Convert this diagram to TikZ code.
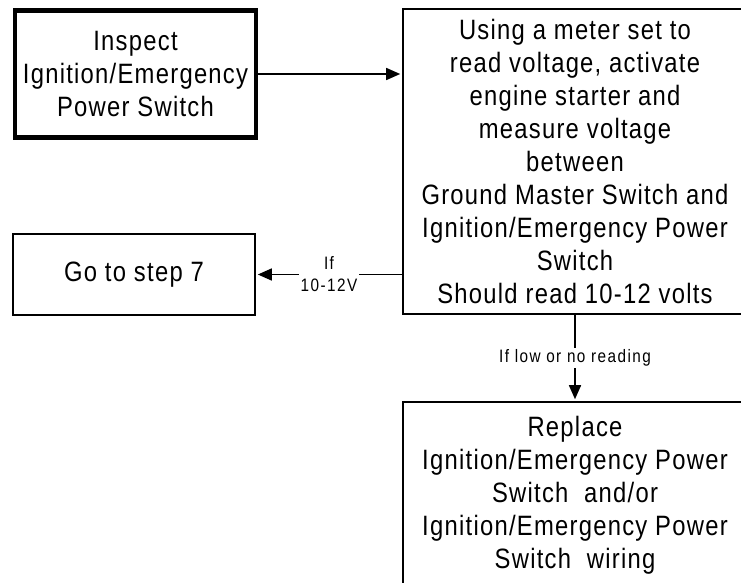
\documentclass[tikz,border=0pt]{standalone}
\usepackage{fontspec}
\setmainfont{Liberation Sans}[FakeStretch=0.85,LetterSpace=4.5]
\newfontfamily\labelfont{Liberation Sans}[FakeStretch=0.85,LetterSpace=8]
\usetikzlibrary{arrows.meta}

\begin{document}
\begin{tikzpicture}[x=1pt,y=-1pt,
  every node/.style={font=\fontsize{28}{33}\selectfont},
  box/.style={draw,line width=1.6pt,align=center,inner sep=0pt},
  thickbox/.style={box,line width=4.5pt},
  arr/.style={line width=1.5pt,-{Triangle[length=14pt,width=12pt]},shorten >=2pt},
  lbl/.style={fill=white,inner sep=2pt,align=center,font=\labelfont\fontsize{18}{22}\selectfont}]
\useasboundingbox (0,0) rectangle (741,582);
\clip (0,0) rectangle (741,582);
\node[thickbox,minimum width=241pt,minimum height=127pt] (inspect) at (135.5,74) {Inspect\\Ignition/Emergency\\Power Switch};
\node[box,minimum width=344pt,minimum height=305pt] (measure) at (575,161.5) {Using a meter set to\\read voltage, activate\\engine starter and\\measure voltage\\between\\Ground Master Switch and\\Ignition/Emergency Power\\Switch\\Should read 10-12 volts};
\node[box,minimum width=242pt,minimum height=81pt] (gostep) at (134,274.5) {Go to step 7};
\node[box,minimum width=344pt,minimum height=187pt] (replace) at (575,495.5) {Replace\\Ignition/Emergency Power\\Switch\ \ and/or\\Ignition/Emergency Power\\Switch\ \ wiring};
\draw[arr] (inspect.east) -- (inspect.east -| measure.west);
\draw[arr] (gostep.east -| measure.west) -- (gostep.east) node[lbl,midway] {If\\10-12V};
\draw[arr] (measure.south) -- (replace.north) node[lbl,midway] {If low or no reading};
\end{tikzpicture}
\end{document}
